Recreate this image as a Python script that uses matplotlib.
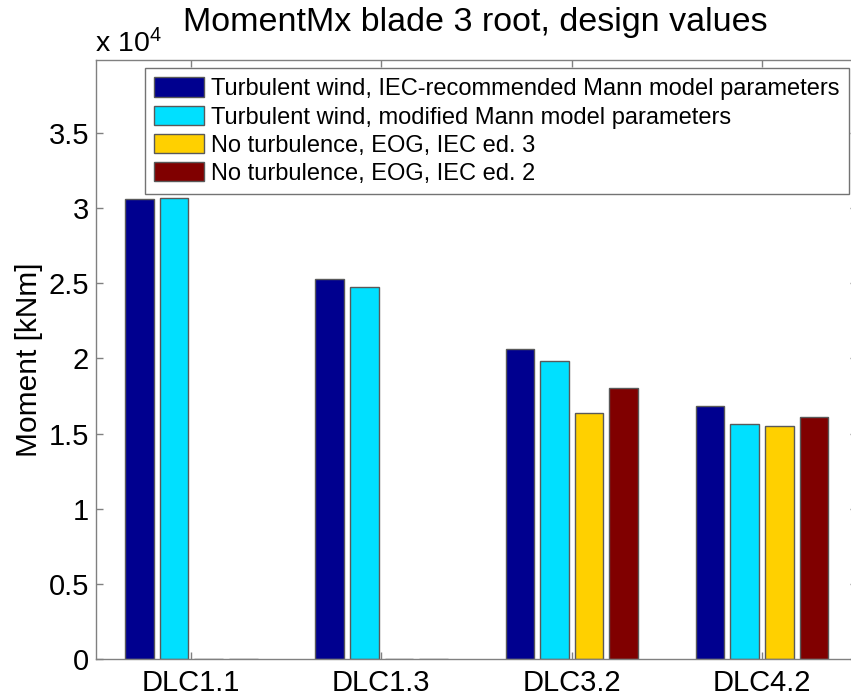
import matplotlib.pyplot as plt
import numpy as np
from matplotlib.ticker import FuncFormatter

plt.rcParams['font.family'] = ['Liberation Sans', 'DejaVu Sans']
plt.rcParams['mathtext.default'] = 'regular'

# maximum blade root moment per load case [kNm]
cases = ["DLC1.1", "DLC1.3", "DLC3.2", "DLC4.2"]
iec_mann = [30590, 25260, 20610, 16830]
mod_mann = [30690, 24730, 19850, 15640]
eog_ed3 = [0, 0, 16350, 15520]
eog_ed2 = [0, 0, 18050, 16080]

series = [iec_mann, mod_mann, eog_ed3, eog_ed2]
labels = ["Turbulent wind, IEC-recommended Mann model parameters",
          "Turbulent wind, modified Mann model parameters",
          "No turbulence, EOG, IEC ed. 3",
          "No turbulence, EOG, IEC ed. 2"]
colors = ["#00008f", "#00e0ff", "#ffd000", "#800000"]

fig = plt.figure(figsize=(8.51, 7.0), dpi=100)
ax = fig.add_axes([96/851, 1-659/700, (857-96)/851, (659-60)/700])

x = np.arange(1, len(cases)+1)
width = 0.15
offsets = [-0.272, -0.09, 0.092, 0.274]
for vals, off, c, lab in zip(series, offsets, colors, labels):
    ax.bar(x+off, vals, width=width, color=c, edgecolor="0.35", linewidth=1.0, label=lab)

ax.set_xlim(0.5, 4.5)
ax.set_ylim(0, 39850)
ax.set_xticks(x)
ax.set_xticklabels(cases)
ax.set_yticks(np.arange(0, 35001, 5000))
ax.yaxis.set_major_formatter(FuncFormatter(lambda v, p: "%g" % (v/1e4)))
ax.tick_params(direction="in", length=5, width=1, color="0.5", labelsize=21,
               top=True, right=True)
ax.tick_params(axis="y", pad=5)
ax.tick_params(axis="x", pad=7)
for s in ax.spines.values():
    s.set_color("0.5")
    s.set_linewidth(1.0)

ax.set_ylabel("Moment [kNm]", fontsize=21.5, labelpad=4)
fig.text(475/851, 1-22/700, "MomentMx blade 3 root, design values", fontsize=24.5,
         ha="center", va="center")
fig.text(95/851, 1-52/700, "x 10$^4$", fontsize=20.5, ha="left", va="baseline")

leg = ax.legend(loc="upper right", bbox_to_anchor=(849/851, 1-68/700),
                bbox_transform=fig.transFigure, borderaxespad=0, fontsize=17,
                fancybox=False, framealpha=1, edgecolor="0.45",
                handlelength=2.1, handleheight=0.9, handletextpad=0.3,
                labelspacing=0.22, borderpad=0.4)
leg.get_frame().set_linewidth(1.0)

fig.savefig("out.png", dpi=100)
